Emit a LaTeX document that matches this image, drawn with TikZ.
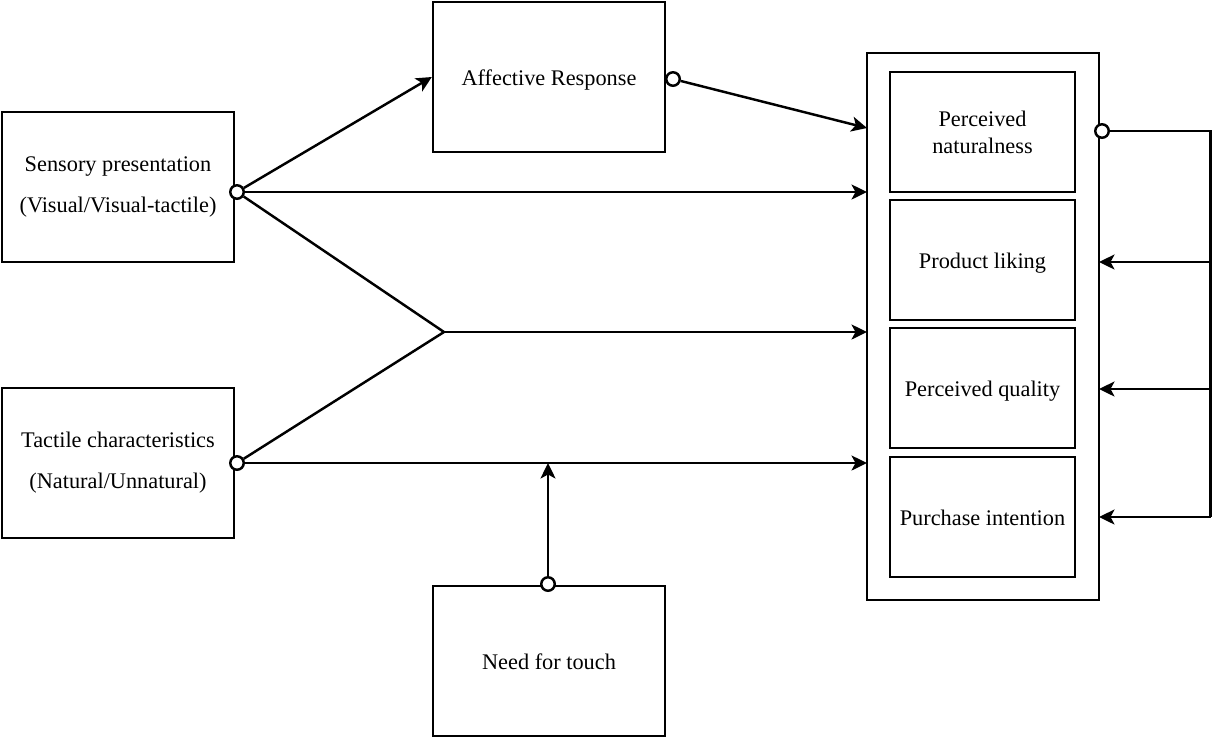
\documentclass[tikz,border=0pt]{standalone}
\usepackage{fontspec}
\setmainfont{Liberation Serif}
\usetikzlibrary{arrows.meta}
\begin{document}
\begin{tikzpicture}[x=0.02cm,y=-0.02cm,
  every node/.style={font=\fontsize{12.7}{15.3}\selectfont},
  box/.style={draw, line width=1.4pt, minimum width=4.64cm, minimum height=3cm, align=center, inner sep=0pt},
  inbox/.style={draw, line width=1.4pt, minimum width=3.7cm, minimum height=2.4cm, align=center, inner sep=0pt},
  oneline/.style={text height=1.1em, text depth=0.18em},
  dot/.style={circle, draw, line width=1.4pt, fill=white, inner sep=0pt, minimum size=0.27cm},
  conn/.style={line width=1.4pt},
  arr/.style={line width=1.4pt, -{Stealth[length=0.31cm,width=0.3cm,inset=0.08cm]}}]
\useasboundingbox (0,0) rectangle (1212,738);
% boxes
\node[box] (sens) at (118,187) {Sensory presentation\\[8pt](Visual/Visual-tactile)};
\node[box] (tact) at (118,463) {Tactile characteristics\\[8pt](Natural/Unnatural)};
\node[box, oneline] (aff) at (549,77) {Affective Response};
\node[box, oneline] (need) at (549,661) {Need for touch};
\node[draw, line width=1.4pt, minimum width=4.64cm, minimum height=10.94cm, inner sep=0pt] (out) at (983,326.5) {};
\node[inbox] (pn) at (982.5,132) {Perceived\\naturalness};
\node[inbox, oneline] (pl) at (982.5,260) {Product liking};
\node[inbox, oneline] (pq) at (982.5,388) {Perceived quality};
\node[inbox, oneline] (pi) at (982.5,517) {Purchase intention};
% circles
\node[dot] (sc) at (237,192) {};
\node[dot] (tc) at (237,463) {};
\node[dot] (ac) at (673,79) {};
\node[dot] (nc) at (548,584) {};
\node[dot] (oc) at (1102,131) {};
% coordinates
\coordinate (j) at (444,332);
\coordinate (t1) at (867,128);
\coordinate (t2) at (867,192);
\coordinate (t3) at (867,332);
\coordinate (t4) at (867,463);
\coordinate (m) at (548,463);
\coordinate (f0) at (1210.5,131);
\coordinate (f1) at (1210.5,262);
\coordinate (f2) at (1210.5,389);
\coordinate (f3) at (1210.5,517);
\coordinate (e1) at (1099,262);
\coordinate (e2) at (1099,389);
\coordinate (e3) at (1099,517);
% connectors
\draw[arr] (sc) -- (aff.west);
\draw[arr] (sc) -- (t2);
\draw[conn] (sc) -- (j);
\draw[conn] (tc) -- (j);
\draw[arr] (j) -- (t3);
\draw[arr] (tc) -- (t4);
\draw[arr] (nc) -- (m);
\draw[arr] (ac) -- (t1);
\draw[conn] (oc) -- (f0) -- (f3);
\draw[arr] (f1) -- (e1);
\draw[arr] (f2) -- (e2);
\draw[arr] (f3) -- (e3);
\end{tikzpicture}
\end{document}
